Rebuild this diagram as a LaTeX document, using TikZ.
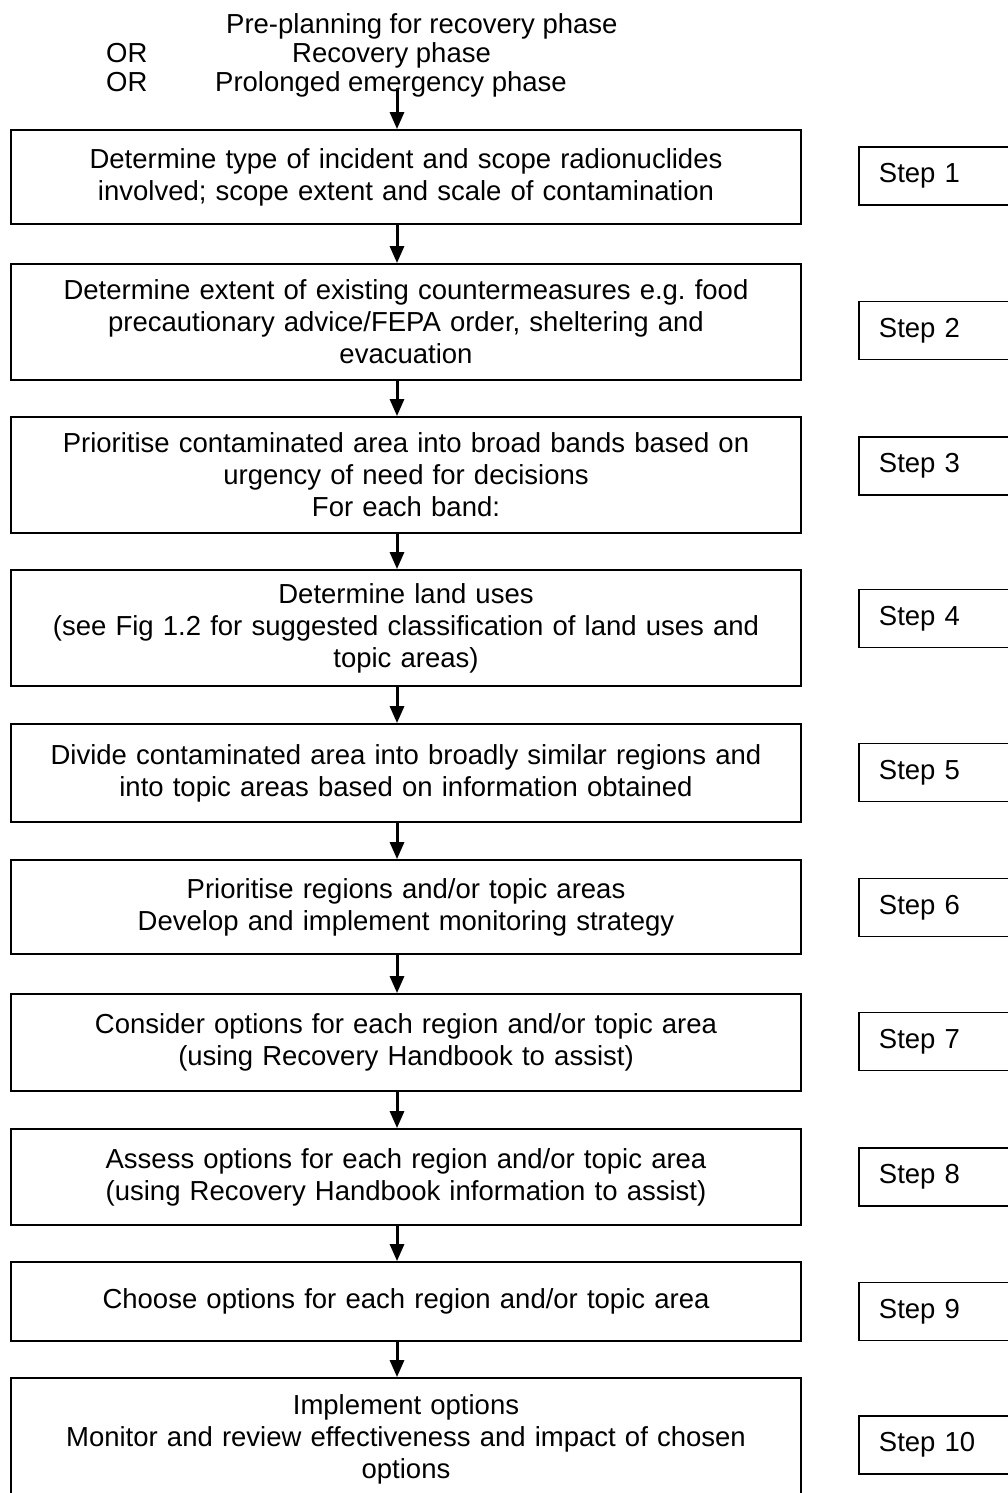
\documentclass[tikz,border=0pt]{standalone}
\usepackage{fontspec}
\setmainfont{Liberation Sans}
\usepackage{tikz}
\usetikzlibrary{
  arrows.meta,
  positioning,
  calc}
\tikzset{
  box/.style={draw, line width=1.8pt, text width=770pt, inner xsep=10pt,
              minimum width=790pt, align=center,
              font=\fontsize{27.5}{32}\selectfont},
  stepbox/.style={draw, line width=1.8pt, anchor=west, text width=130pt,
                  inner xsep=20pt, minimum height=58pt, align=left,
                  font=\fontsize{27.5}{32}\selectfont},
  phase/.style={anchor=base west, inner sep=0pt,
                font=\fontsize{27.5}{32}\selectfont},
  flow/.style={line width=3pt, -{Triangle[length=17pt,width=14pt]}}
}

\begin{document}
\begin{tikzpicture}[x=1pt,y=-1pt]

\useasboundingbox (0,0) rectangle (1008,1493);

%phases on top
\node[phase] (pre) at (226,34) {Pre-planning for recovery phase};
\node[phase] (or1) at (106,63) {OR};
\node[phase] (rec) at (292,63) {Recovery phase};
\node[phase] (or2) at (106,92) {OR};
\node[phase] (pro) at (215,92) {Prolonged emergency phase};
\coordinate (start) at (397,88);

%main flow
\node[box, minimum height=94pt]  (b1) at (406,177) {Determine type of incident and scope radionuclides\\involved; scope extent and scale of contamination};
\node[box, minimum height=116pt] (b2) at (406,322) {Determine extent of existing countermeasures e.g.\ food\\precautionary advice/FEPA order, sheltering and\\evacuation};
\node[box, minimum height=116pt] (b3) at (406,475) {Prioritise contaminated area into broad bands based on\\urgency of need for decisions\\For each band:};
\node[box, minimum height=116pt] (b4) at (406,628) {Determine land uses\\(see Fig 1.2 for suggested classification of land uses and\\topic areas)};
\node[box, minimum height=98pt]  (b5) at (406,773) {Divide contaminated area into broadly similar regions and\\into topic areas based on information obtained};
\node[box, minimum height=94pt]  (b6) at (406,907) {Prioritise regions and/or topic areas\\Develop and implement monitoring strategy};
\node[box, minimum height=97pt]  (b7) at (406,1042.5) {Consider options for each region and/or topic area\\(using Recovery Handbook to assist)};
\node[box, minimum height=96pt]  (b8) at (406,1177) {Assess options for each region and/or topic area\\(using Recovery Handbook information to assist)};
\node[box, minimum height=79pt]  (b9) at (406,1301.5) {Choose options for each region and/or topic area};
\node[box, minimum height=122pt] (b10) at (406,1439) {Implement options\\Monitor and review effectiveness and impact of chosen\\options};

%steps
\node[stepbox] (s1) at (858,176) {Step 1};
\node[stepbox] (s2) at (858,330.5) {Step 2};
\node[stepbox] (s3) at (858,466) {Step 3};
\node[stepbox] (s4) at (858,618.5) {Step 4};
\node[stepbox] (s5) at (858,772.5) {Step 5};
\node[stepbox] (s6) at (858,907.5) {Step 6};
\node[stepbox] (s7) at (858,1041.5) {Step 7};
\node[stepbox] (s8) at (858,1177) {Step 8};
\node[stepbox] (s9) at (858,1311.5) {Step 9};
\node[stepbox] (s10) at (858,1445) {Step 10};

%arrows
\draw[flow] (start) -- (start |- b1.north);
\draw[flow] ([xshift=-9pt]b1.south) -- ([xshift=-9pt]b2.north);
\draw[flow] ([xshift=-9pt]b2.south) -- ([xshift=-9pt]b3.north);
\draw[flow] ([xshift=-9pt]b3.south) -- ([xshift=-9pt]b4.north);
\draw[flow] ([xshift=-9pt]b4.south) -- ([xshift=-9pt]b5.north);
\draw[flow] ([xshift=-9pt]b5.south) -- ([xshift=-9pt]b6.north);
\draw[flow] ([xshift=-9pt]b6.south) -- ([xshift=-9pt]b7.north);
\draw[flow] ([xshift=-9pt]b7.south) -- ([xshift=-9pt]b8.north);
\draw[flow] ([xshift=-9pt]b8.south) -- ([xshift=-9pt]b9.north);
\draw[flow] ([xshift=-9pt]b9.south) -- ([xshift=-9pt]b10.north);

\end{tikzpicture}
\end{document}
